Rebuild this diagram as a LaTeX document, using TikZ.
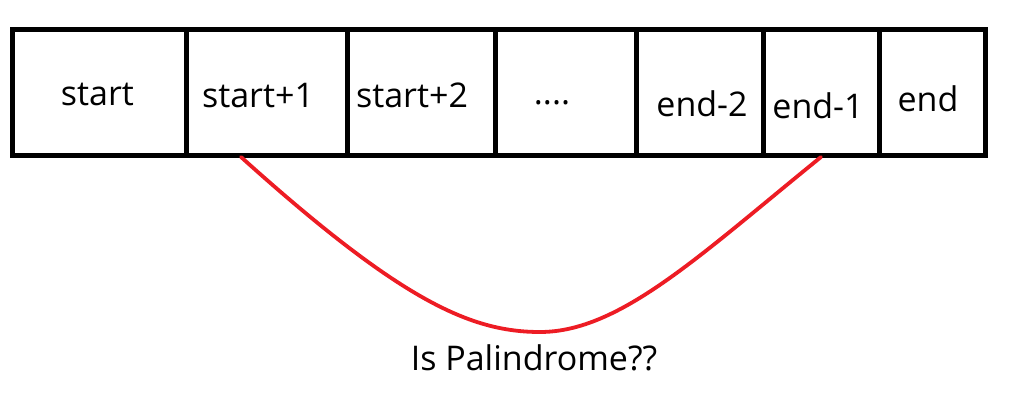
\documentclass[tikz,border=0pt]{standalone}
\usepackage{fontspec}
\usetikzlibrary{calc}
\setmainfont{Open Sans}
\definecolor{paintred}{HTML}{ED1C24}
\begin{document}
\begin{tikzpicture}[x=1pt,y=-1pt,
  cell/.style={draw=black,line width=5pt,minimum height=125pt,inner sep=0pt,outer sep=0pt},
  lbl/.style={anchor=base,inner sep=0pt,font=\fontsize{34}{34}\selectfont},
  link/.style={draw=paintred,line width=3.8pt,line cap=round}]
\useasboundingbox (0,0) rectangle (1019,409);
% cells: borders at 12,186,347,495,636,763,879,985 ; top 30 bottom 155
\node[cell,minimum width=174pt] (c1) at (99,92.5) {};
\node[cell,minimum width=161pt] (c2) at (266.5,92.5) {};
\node[cell,minimum width=148pt] (c3) at (421,92.5) {};
\node[cell,minimum width=141pt] (c4) at (565.5,92.5) {};
\node[cell,minimum width=127pt] (c5) at (699.5,92.5) {};
\node[cell,minimum width=116pt] (c6) at (821,92.5) {};
\node[cell,minimum width=106pt] (c7) at (932,92.5) {};
% labels
\node[lbl] (t1) at (97.5,106) {start};
\node[lbl] (t2) at (258,107) {start+1};
\node[lbl] (t3) at (412,108) {start+2};
\node[lbl] (t4) at (552,105) {....};
\node[lbl] (t5) at (702,117) {end-2};
\node[lbl] (t6) at (818,118) {end-1};
\node[lbl] (t7) at (928,112) {end};
\node[lbl] (q) at (534,370) {Is Palindrome??};
% connector
\coordinate (a) at ($(c2.south west)+(55,2)$);
\coordinate (b) at ($(c6.south west)+(58,2)$);
\path[link] (a) .. controls (400,300) and (470,332) .. (540,332)
             .. controls (620,332) and (700,255) .. (b);
\end{tikzpicture}
\end{document}
